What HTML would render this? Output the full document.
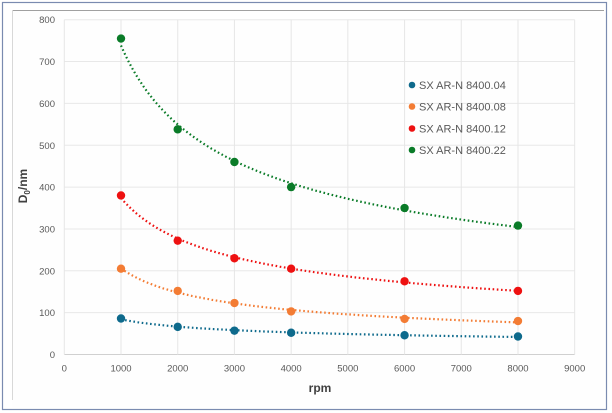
<!DOCTYPE html>
<html><head><meta charset="utf-8"><style>
body{margin:0;background:#fff;}
svg{display:block;font-family:"Liberation Sans",sans-serif;}
</style></head><body>
<svg id="s" width="612" height="413" xmlns="http://www.w3.org/2000/svg">
<rect x="0" y="0" width="612" height="413" fill="#fff"/>
<rect x="12" y="10" width="592" height="398" fill="#fefefe" stroke="none"/>
<line x1="12" y1="10.5" x2="604" y2="10.5" stroke="#a0a0a0" stroke-width="1"/>
<line x1="12.5" y1="10" x2="12.5" y2="400" stroke="#d8d8d8" stroke-width="1"/>
<rect x="2.5" y="2.5" width="604" height="407" fill="none" stroke="#7a8bb0" stroke-width="1.2"/>
<g id="grid" stroke="#e6e6e6" stroke-width="1"></g>
<g id="ticks" fill="#595959" font-size="9.5"></g>
<text x="0" y="0" transform="translate(27,186) rotate(-90)" text-anchor="middle" font-weight="bold" font-size="12" fill="#404040">D<tspan font-size="8" dy="3">0</tspan><tspan dy="-3">/nm</tspan></text>
<text x="320" y="392" text-anchor="middle" font-weight="bold" font-size="12" fill="#404040">rpm</text>
<g id="series"></g>
<g font-size="11" fill="#595959">
<circle cx="412" cy="85" r="3.3" fill="#0e6a8c"/><text x="419" y="89">SX AR-N 8400.04</text>
<circle cx="412" cy="106.5" r="3.3" fill="#f37c34"/><text x="419" y="110.5">SX AR-N 8400.08</text>
<circle cx="412" cy="128.5" r="3.3" fill="#ee1111"/><text x="419" y="132.5">SX AR-N 8400.12</text>
<circle cx="412" cy="150" r="3.3" fill="#0a7b28"/><text x="419" y="154">SX AR-N 8400.22</text>
</g>
</svg>
<script>
var NS="http://www.w3.org/2000/svg";
function X(v){return 64.3+v*0.05671;}
function Y(v){return 354.5-v*0.4185;}
function el(t,a,p){var e=document.createElementNS(NS,t);for(var k in a)e.setAttribute(k,a[k]);if(p)p.appendChild(e);return e;}
var g=document.getElementById("grid"),tk=document.getElementById("ticks");
for(var i=0;i<=8;i++){var y=Y(i*100);el("line",{x1:X(0),x2:X(9000),y1:y,y2:y,stroke:i==0?"#d0d0d0":"#e8e8e8"},g);
var t=el("text",{x:55,y:y+3.5,"text-anchor":"end"},tk);t.textContent=i*100;}
for(var i=0;i<=9;i++){var x=X(i*1000);el("line",{x1:x,x2:x,y1:Y(0),y2:Y(800)},g);
var t=el("text",{x:x,y:Y(0)+17,"text-anchor":"middle"},tk);t.textContent=i*1000;}
var xs=[1000,2000,3000,4000,6000,8000];
var S=[["#0e6a8c",[86,66,57,52,46,43]],["#f37c34",[205,152,123,103,85,80]],["#ee1111",[380,272,230,205,175,152]],["#0a7b28",[755,538,460,400,350,308]]];
var sg=document.getElementById("series");
S.forEach(function(s){
 var n=xs.length,sx=0,sy=0,sxx=0,sxy=0;
 for(var i=0;i<n;i++){var lx=Math.log(xs[i]),ly=Math.log(s[1][i]);sx+=lx;sy+=ly;sxx+=lx*lx;sxy+=lx*ly;}
 var b=(n*sxy-sx*sy)/(n*sxx-sx*sx),a=Math.exp((sy-b*sx)/n);
 var d="";for(var v=1000;v<=8000;v+=50){d+=(v==1000?"M":"L")+X(v).toFixed(1)+","+Y(a*Math.pow(v,b)).toFixed(1);}
 el("path",{d:d,fill:"none",stroke:s[0],"stroke-width":2.2,"stroke-dasharray":"1.6 2.6"},sg);
 for(var i=0;i<n;i++)el("circle",{cx:X(xs[i]),cy:Y(s[1][i]),r:4.2,fill:s[0]},sg);
});
</script>
</body></html>
